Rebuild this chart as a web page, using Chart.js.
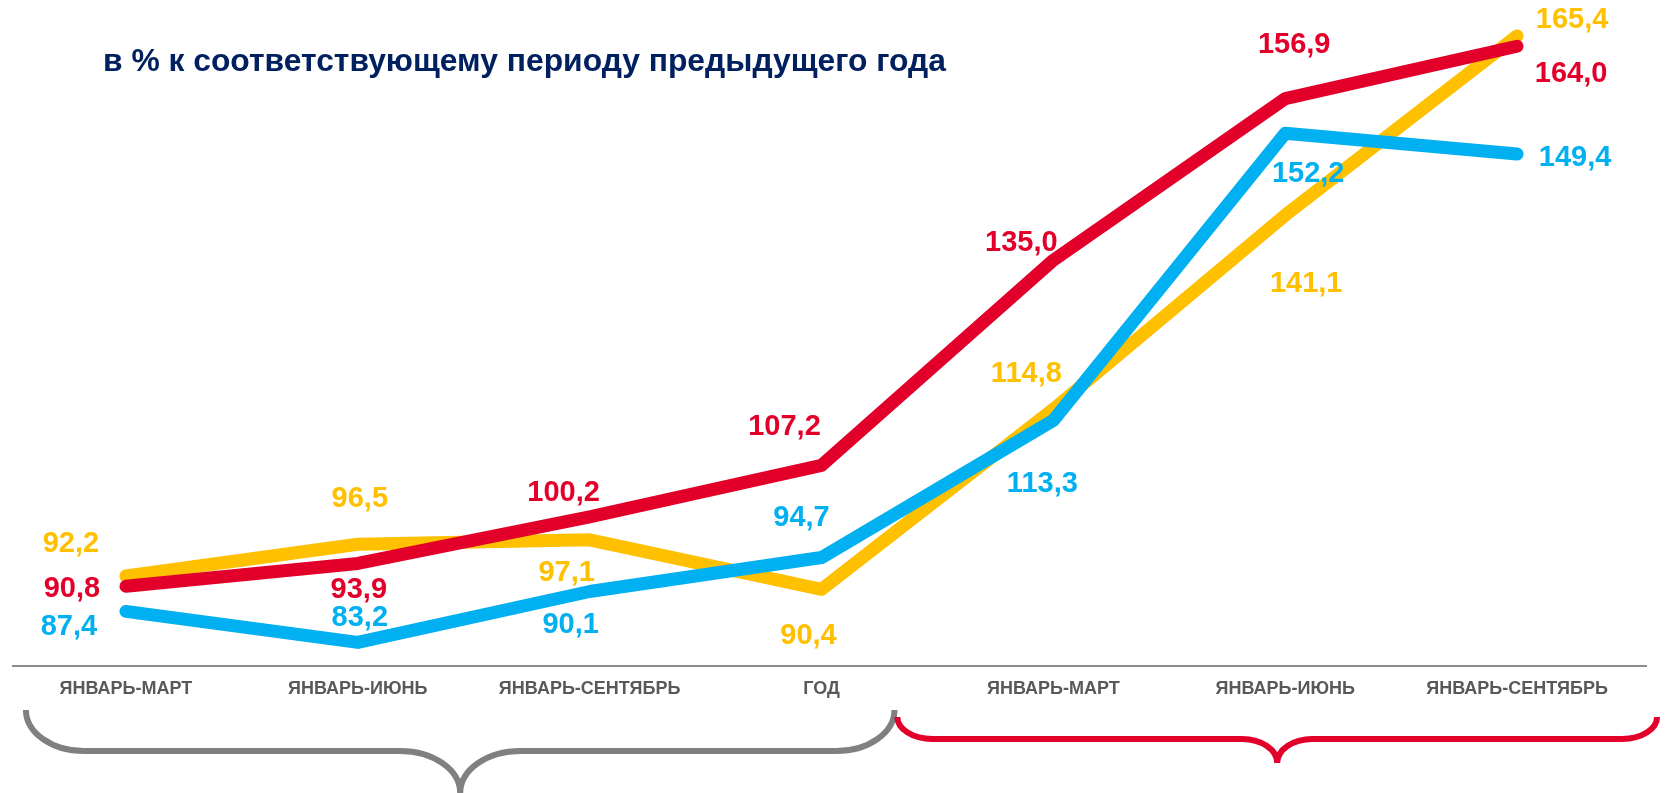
<!DOCTYPE html>
<html>
<head>
<meta charset="utf-8">
<script src="https://cdn.jsdelivr.net/npm/chart.js@4.4.1/dist/chart.umd.min.js"></script>
<style>
  html, body { margin: 0; padding: 0; background: #ffffff; }
  #wrap { position: relative; width: 1672px; height: 793px; }
</style>
</head>
<body>
<div id="wrap"><canvas id="c"></canvas></div>
<script>
// ---- data ----
const categories = ['ЯНВАРЬ-МАРТ', 'ЯНВАРЬ-ИЮНЬ', 'ЯНВАРЬ-СЕНТЯБРЬ', 'ГОД', 'ЯНВАРЬ-МАРТ', 'ЯНВАРЬ-ИЮНЬ', 'ЯНВАРЬ-СЕНТЯБРЬ'];
const redSeries    = [90.8, 93.9, 100.2, 107.2, 135.0, 156.9, 164.0];
const blueSeries   = [87.4, 83.2, 90.1, 94.7, 113.3, 152.2, 149.4];
const yellowSeries = [92.2, 96.5, 97.1, 90.4, 114.8, 141.1, 165.4];
const titleText = 'в % к соответствующему периоду предыдущего года';

// ---- styling / label placement (offsets from each point, px) ----
const RED = '#E2002A', BLUE = '#00B0F0', YELLOW = '#FFC000';
const redOffsets    = [[-54, 3], [1, 27], [-26, -24], [-37, -38], [-32, -17], [9, -54], [54, 28]];
const blueOffsets   = [[-57, 16], [2, -24], [-19, 34], [-20, -40], [-11, 64], [23, 41], [58, 4]];
const yellowOffsets = [[-55, -32], [2, -45], [-23, 33], [-13, 47], [-27, -35], [21, 69], [55, -16]];

const fmt = v => v.toFixed(1).replace('.', ',');

const decorPlugin = {
  id: 'decor',
  beforeDatasetsDraw(chart) {
    const ctx = chart.ctx;
    const yAxisPix = chart.chartArea.bottom;
    ctx.save();
    ctx.strokeStyle = '#8C8C8C';
    ctx.lineWidth = 2;
    ctx.beginPath();
    ctx.moveTo(12, yAxisPix);
    ctx.lineTo(1647, yAxisPix);
    ctx.stroke();
    ctx.restore();
  },
  afterDraw(chart) {
    const ctx = chart.ctx;
    const xs = chart.scales.x;
    // title
    ctx.save();
    ctx.fillStyle = '#002060';
    ctx.font = 'bold 32px "Liberation Sans", Arial, sans-serif';
    ctx.textBaseline = 'alphabetic';
    ctx.textAlign = 'left';
    const w = ctx.measureText(titleText).width;
    const target = 843;
    ctx.translate(103, 71);
    ctx.scale(target / w, 1);
    ctx.fillText(titleText, 0, 0);
    ctx.restore();

    // braces
    function brace(L, R, top, H, bottom, rxo, rxi, color) {
      const k = 0.5523;
      const M = (L + R) / 2;
      const ryo = H - top, ryi = bottom - H;
      ctx.save();
      ctx.strokeStyle = color;
      ctx.lineWidth = 6;
      ctx.lineCap = 'butt';
      ctx.lineJoin = 'round';
      ctx.beginPath();
      ctx.moveTo(L, top);
      ctx.bezierCurveTo(L, top + k * ryo, L + rxo - k * rxo, H, L + rxo, H);
      ctx.lineTo(M - rxi, H);
      ctx.bezierCurveTo(M - rxi + k * rxi, H, M, bottom - k * ryi, M, bottom);
      ctx.moveTo(M, bottom);
      ctx.bezierCurveTo(M, bottom - k * ryi, M + rxi - k * rxi, H, M + rxi, H);
      ctx.lineTo(R - rxo, H);
      ctx.bezierCurveTo(R - rxo + k * rxo, H, R, top + k * ryo, R, top);
      ctx.stroke();
      ctx.restore();
    }
    const p0 = xs.getPixelForValue(0), p3 = xs.getPixelForValue(3);
    const p4 = xs.getPixelForValue(4), p6 = xs.getPixelForValue(6);
    brace(p0 - 100, p3 + 73, 710, 751, 793, 58, 60, '#808080');
    brace(p4 - 156, p6 + 140, 717, 739, 763, 35, 35, RED);

    // data labels
    const sets = [
      {vals: redSeries, offs: redOffsets, color: RED, idx: 0},
      {vals: blueSeries, offs: blueOffsets, color: BLUE, idx: 1},
      {vals: yellowSeries, offs: yellowOffsets, color: YELLOW, idx: 2}
    ];
    ctx.save();
    ctx.font = 'bold 29px "Liberation Sans", Arial, sans-serif';
    ctx.textAlign = 'center';
    ctx.textBaseline = 'middle';
    sets.forEach(s => {
      const meta = chart.getDatasetMeta(s.idx);
      ctx.fillStyle = s.color;
      meta.data.forEach((pt, i) => {
        const o = s.offs[i];
        ctx.fillText(fmt(s.vals[i]), pt.x + o[0], pt.y + o[1]);
      });
    });
    ctx.restore();
  }
};

const lineStyle = {
  borderWidth: 13,
  borderCapStyle: 'round',
  borderJoinStyle: 'round',
  pointRadius: 0,
  pointHoverRadius: 0,
  tension: 0,
  fill: false
};

new Chart(document.getElementById('c'), {
  type: 'line',
  data: {
    labels: categories,
    datasets: [
      Object.assign({label: 'red', data: redSeries, borderColor: RED, backgroundColor: RED, order: 1}, lineStyle),
      Object.assign({label: 'blue', data: blueSeries, borderColor: BLUE, backgroundColor: BLUE, order: 2}, lineStyle),
      Object.assign({label: 'yellow', data: yellowSeries, borderColor: YELLOW, backgroundColor: YELLOW, order: 3}, lineStyle)
    ]
  },
  options: {
    responsive: true,
    maintainAspectRatio: false,
    animation: false,
    events: [],
    layout: { padding: { left: 10, right: 39, top: 2, bottom: 0 } },
    plugins: {
      legend: { display: false },
      tooltip: { enabled: false },
      title: { display: false }
    },
    scales: {
      x: {
        type: 'category',
        offset: true,
        grid: { display: false, drawTicks: false },
        border: { display: false },
        ticks: {
          autoSkip: false,
          maxRotation: 0,
          padding: 12,
          color: '#595959',
          font: { family: '"Liberation Sans", Arial, sans-serif', size: 18, weight: 'bold' }
        },
        afterFit: (scale) => { scale.height = 127; }
      },
      y: {
        display: false,
        min: 80,
        max: 170
      }
    }
  },
  plugins: [decorPlugin]
});
</script>
</body>
</html>
